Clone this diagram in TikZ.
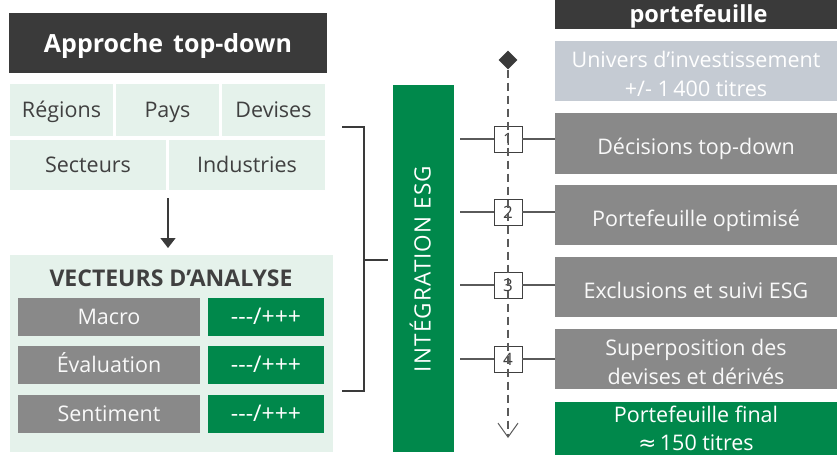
\documentclass[tikz,border=0pt]{standalone}
\usepackage{fontspec}
\setmainfont{Open Sans}
\newfontfamily\dejavu{DejaVu Sans}
\usetikzlibrary{arrows.meta,shapes.geometric,calc}
\definecolor{headdark}{HTML}{3A3A3A}
\definecolor{lightgreen}{HTML}{E5F2EB}
\definecolor{midgray}{HTML}{898989}
\definecolor{esggreen}{HTML}{00884B}
\definecolor{bluegray}{HTML}{C5CBD3}
\definecolor{textdark}{HTML}{404040}
\definecolor{linegray}{HTML}{5A5A5A}
\begin{document}
\begin{tikzpicture}[x=1pt,y=-1pt,
  box/.style={anchor=north west, inner sep=0pt, outer sep=0pt, align=center,
    text height=15.3pt, text depth=0pt, font=\fontsize{21.5}{30}\selectfont},
  cell/.style={box, fill=lightgreen, text=textdark},
  graybox/.style={box, fill=midgray, text=white!95!gray},
  greenbox/.style={box, fill=esggreen, text=white},
  rbox/.style={anchor=north west, inner sep=0pt, outer sep=0pt, minimum width=282pt},
  rtxt/.style={inner sep=0pt, align=center, font=\fontsize{21.5}{29}\selectfont},
  sign/.style={greenbox, minimum width=116pt, minimum height=38pt, font=\fontsize{23}{26}\selectfont},
  numbox/.style={draw=textdark, fill=white, line width=0.9pt, minimum width=28pt,
    minimum height=26pt, inner sep=0pt, text=textdark, font=\fontsize{17}{17}\selectfont},
  ln/.style={draw=linegray, line width=1.2pt},
  brk/.style={draw=headdark, line width=1.4pt}]
\useasboundingbox (0,0) rectangle (837,455);

% left header
\node[box, fill=headdark, minimum width=318pt, minimum height=60pt] (head) at (9,13) {};
\node[inner sep=0pt, text=white, text height=17.9pt, text depth=0pt,
  font=\fontsize{25}{28}\selectfont\bfseries] (headt) at ([yshift=-1pt]head.center) {Approche\hspace{0.4em}top-down};
\node[cell, minimum width=103pt, minimum height=52pt] (reg) at (10,84) {Régions};
\node[cell, minimum width=103pt, minimum height=52pt] (pays) at (116,84) {Pays};
\node[cell, minimum width=103pt, minimum height=52pt] (dev) at (222,84) {Devises};
\node[cell, minimum width=156pt, minimum height=50pt] (sect) at (10,140) {Secteurs};
\node[cell, minimum width=156pt, minimum height=50pt] (ind) at (169,140) {Industries};

% vecteurs
\node[box, fill=lightgreen, minimum width=323pt, minimum height=197pt] (vect) at (10,255) {};
\node[font=\fontsize{23}{26}\selectfont\bfseries, text=textdark, inner sep=0pt,
  text height=16.4pt, text depth=0pt] (vtitle) at (171,278) {VECTEURS D’ANALYSE};
\node[graybox, minimum width=182pt, minimum height=38pt] (macro) at (18,298) {Macro};
\node[sign] (m1) at (208,298) {-{}-{}-/+++};
\node[graybox, minimum width=182pt, minimum height=38pt] (eval) at (18,346) {Évaluation};
\node[sign] (m2) at (208,346) {-{}-{}-/+++};
\node[graybox, minimum width=182pt, minimum height=38pt] (sent) at (18,395) {Sentiment};
\node[sign] (m3) at (208,395) {-{}-{}-/+++};

% arrow top-down -> vecteurs
\coordinate (a1) at (168,198);
\draw[draw=headdark, line width=1.4pt, -{Triangle[length=10pt,width=15pt]}, shorten >=7pt] (a1) -- (a1 |- vect.north);

% ESG bar
\node[box, fill=esggreen, minimum width=61pt, minimum height=367pt] (esg) at (393,85) {};
\node[text=white, rotate=90, font=\fontsize{22.5}{26}\selectfont\addfontfeature{LetterSpace=5},
  inner sep=0pt, text height=16pt, text depth=0pt] (esgt) at (422.5,269) {INTÉGRATION ESG};

% bracket
\coordinate (bt) at (342,127);
\coordinate (bb) at (342,391);
\coordinate (bv) at (364,127);
\coordinate (bm) at (364,260);
\draw[brk] (bt) -- (bv) -- (bv |- bb) -- (bb);
\draw[brk] (bm) -- ([xshift=-5pt]esg.west |- bm);

% right column
\node[rbox, fill=headdark, minimum height=29pt] (hdr) at (555,0) {};
\coordinate (hb) at (698.5,22);
\node[anchor=base, inner sep=0pt, text=white, font=\fontsize{23.5}{26}\selectfont\bfseries] (hdrt) at (hb) {portefeuille};

\node[rbox, fill=bluegray, minimum height=60pt] (univ) at (555,41) {};
\node[rtxt, text=white] (univt) at ([yshift=-2.5pt]univ.center) {Univers d’investissement\\+/- 1\,400 titres};

\node[rbox, fill=midgray, minimum height=61pt] (dec) at (555,113) {};
\node[rtxt, text=white!95!gray, text height=15.3pt, text depth=0pt] (dect) at ([yshift=-3.5pt]dec.center) {Décisions top-down};

\node[rbox, fill=midgray, minimum height=60pt] (opt) at (555,185) {};
\node[rtxt, text=white!95!gray, text height=15.3pt, text depth=0pt] (optt) at ([yshift=-3.5pt]opt.center) {Portefeuille optimisé};

\node[rbox, fill=midgray, minimum height=60pt] (excl) at (555,257) {};
\node[rtxt, text=white!95!gray, text height=15.3pt, text depth=0pt] (exclt) at ([yshift=-4pt]excl.center) {Exclusions et suivi ESG};

\node[rbox, fill=midgray, minimum height=60pt] (sup) at (555,329) {};
\node[rtxt, text=white!95!gray] (supt) at ([yshift=-2.5pt]sup.center) {Superposition des\\devises et dérivés};

\node[rbox, fill=esggreen, minimum height=53pt] (fin) at (555,402) {};
\node[rtxt, text=white, font=\fontsize{21.5}{28}\selectfont] (fint) at ([yshift=0.5pt]fin.center) {Portefeuille final\\{\dejavu ≈}\,150 titres};

% numbered steps
\node[numbox] (n1) at (508,139) {1};
\node[numbox] (n2) at (508,212) {2};
\node[numbox] (n3) at (508,285) {3};
\node[numbox] (n4) at (508,359) {4};
\coordinate (esgr) at ([xshift=6pt]esg.east);
\foreach \n/\b in {n1/dec,n2/opt,n3/excl,n4/sup}{
  \draw[ln] (esgr |- \n.west) -- (\n.west);
  \draw[ln] (\n.east) -- (\b.west |- \n.east);
}

% dashed timeline
\node[diamond, fill=headdark, minimum width=19pt, minimum height=19pt, inner sep=0pt] (dtop) at (508,60) {};
\coordinate (dbot) at (508,438);
\draw[draw=linegray, line width=1.2pt, dash pattern=on 8pt off 5pt,
  -{Straight Barb[length=14pt,width=20pt,line width=1pt]}] (dtop) -- (dbot);
\end{tikzpicture}
\end{document}
